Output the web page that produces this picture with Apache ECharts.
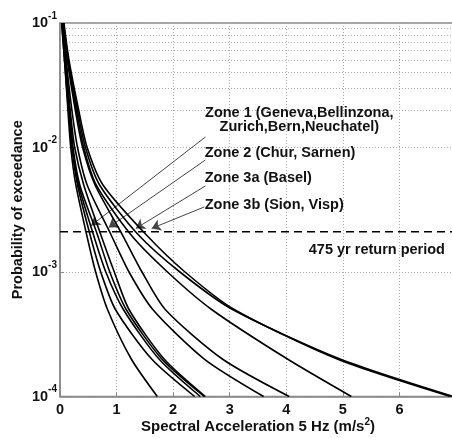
<!DOCTYPE html>
<html><head><meta charset="utf-8">
<script src="https://cdn.jsdelivr.net/npm/echarts@6/dist/echarts.min.js"></script>
<style>html,body{margin:0;padding:0;background:#fff}#c{width:452px;height:438px}
.fl{font-family:'Liberation Sans';font-weight:bold;position:absolute;left:-999px;top:-999px}</style>
</head><body><div class="fl">Zone 10</div><div id="c"></div>
<script>
// Probability levels at which each curve's acceleration (m/s^2) was read
const probLevels = [0.1, 0.05, 0.02, 0.01, 0.005, 0.002, 0.001, 0.0005, 0.0002, 0.0001];
// Zone 1 curves
const curveA = [0.03, 0.08, 0.14, 0.19, 0.28, 0.47, 0.63, 0.84, 1.26, 1.72];
const curveB = [0.03, 0.08, 0.15, 0.21, 0.31, 0.53, 0.72, 0.98, 1.62, 2.38];
const curveC = [0.04, 0.09, 0.16, 0.22, 0.33, 0.59, 0.81, 1.12, 1.75, 2.48];
const curveD1 = [0.04, 0.09, 0.17, 0.23, 0.35, 0.66, 0.88, 1.17, 1.80, 2.55];
const curveD2 = [0.04, 0.10, 0.18, 0.26, 0.42, 0.72, 0.96, 1.22, 1.84, 2.57];
// Zone 2 curves
const curveE = [0.05, 0.11, 0.21, 0.31, 0.48, 0.90, 1.22, 1.64, 2.55, 3.60];
const curveF = [0.05, 0.13, 0.27, 0.40, 0.62, 1.10, 1.45, 1.86, 2.87, 4.05];
// Zone 3a curve
const curveG = [0.06, 0.14, 0.29, 0.42, 0.64, 1.25, 1.90, 2.68, 4.02, 5.15];
// Zone 3b curves
const curveH = [0.06, 0.15, 0.31, 0.45, 0.70, 1.38, 2.12, 3.05, 4.95, 6.95];
const curveI = [0.07, 0.16, 0.33, 0.48, 0.76, 1.52, 2.21, 3.08, 4.90, 6.90];
const curves = [curveA, curveB, curveC, curveD1, curveD2, curveE, curveF, curveG, curveH, curveI];

const xTickLabels = ['0', '1', '2', '3', '4', '5', '6', ''];
const yTickValues = [0.0001, 0.001, 0.01, 0.1];
const yTickExps = ['-4', '-3', '-2', '-1'];
const minorGridValues = [
  0.0002, 0.0003, 0.0004, 0.0005, 0.0006, 0.0007, 0.0008, 0.0009,
  0.002, 0.003, 0.004, 0.005, 0.006, 0.007, 0.008, 0.009,
  0.02, 0.03, 0.04, 0.05, 0.06, 0.07, 0.08, 0.09
];
const returnPeriodYears = 475;
const returnPeriodP = 1 / returnPeriodYears;
const returnPeriodText = '475 yr return period';

// annotation texts and anchors (x in m/s^2, y probability)
const zoneTexts = [
  'Zone 1 (Geneva,Bellinzona,\nZurich,Bern,Neuchatel)',
  'Zone 2 (Chur, Sarnen)',
  'Zone 3a (Basel)',
  'Zone 3b (Sion, Visp)'
];
const zoneTextAnchors = [[4.23, 0.01663], [2.549, 0.00904], [2.549, 0.00569], [2.549, 0.00345]];
const arrowStarts = [[2.57, 0.01214], [2.57, 0.00794], [2.57, 0.00491], [2.55, 0.00333]];
const arrowEnds = [[0.55, 0.00236], [0.86, 0.00228], [1.34, 0.00224], [1.62, 0.00224]];
const returnTextAnchor = [4.389, 0.00150];

const FONT = '"Liberation Sans", Arial, Helvetica, sans-serif';
const chart = echarts.init(document.getElementById('c'), null, {renderer: 'canvas'});

const curveSeries = curves.map((c, k) => ({
  type: 'line',
  name: 'curve' + k,
  data: probLevels.map((p, i) => [c[i], p]),
  smooth: 0.25,
  showSymbol: false,
  symbol: 'none',
  silent: true,
  z: 5,
  lineStyle: {color: '#000', width: 1.6}
}));

const labelBase = {color: '#111', fontWeight: 'bold', fontSize: 14.5, fontFamily: FONT};

const option = {
  animation: false,
  backgroundColor: '#fff',
  textStyle: {fontFamily: FONT, fontWeight: 'bold'},
  grid: {left: 60, right: -4, top: 23, bottom: 41.5, containLabel: false, outerBoundsMode: 'none',
         show: true, borderColor: '#888', borderWidth: 1.5, backgroundColor: 'transparent'},
  xAxis: {
    type: 'value', min: 0, max: 7, interval: 1,
    name: 'Spectral Acceleration 5 Hz (m/s{sup|2})',
    nameLocation: 'middle', nameGap: 21, nameMoveOverlap: false,
    nameTextStyle: {color: '#111', fontWeight: 'bold', fontSize: 15, fontFamily: FONT, lineHeight: 18,
      rich: {sup: {fontSize: 10, fontWeight: 'bold', fontFamily: FONT, color: '#111', verticalAlign: 'top', lineHeight: 10}}},
    axisLine: {show: true, lineStyle: {color: '#888', width: 1.5}},
    axisTick: {show: true, inside: true, length: 4, lineStyle: {color: '#888'}},
    axisLabel: {margin: 6, color: '#111', fontWeight: 'bold', fontSize: 14.5, fontFamily: FONT,
      formatter: (v) => xTickLabels[Math.round(v)] ?? ''},
    splitLine: {show: true, lineStyle: {color: '#aaa', width: 1, type: [1, 2]}}
  },
  yAxis: {
    type: 'log', logBase: 10, min: 0.0001, max: 0.1, splitNumber: 3,
    name: 'Probability of exceedance',
    nameLocation: 'middle', nameGap: 35, nameMoveOverlap: false,
    nameTextStyle: {color: '#111', fontWeight: 'bold', fontSize: 14.5, fontFamily: FONT},
    axisLine: {show: true, lineStyle: {color: '#888', width: 1.5}},
    axisTick: {show: true, inside: true, length: 4, lineStyle: {color: '#888'}},
    axisLabel: {margin: 3, color: '#111', fontFamily: FONT, fontWeight: 'bold',
      formatter: (v) => {
        const idx = yTickValues.findIndex(t => Math.abs(Math.log10(t) - Math.log10(v)) < 1e-6);
        return idx >= 0 ? '{b|10}{s|' + yTickExps[idx] + '}' : '';
      },
      rich: {
        b: {fontSize: 14.5, fontWeight: 'bold', fontFamily: FONT, color: '#111', lineHeight: 24, verticalAlign: 'middle'},
        s: {fontSize: 10, fontWeight: 'bold', fontFamily: FONT, color: '#111', lineHeight: 10, verticalAlign: 'top'}
      }
    },
    splitLine: {show: true, lineStyle: {color: '#aaa', width: 1, type: [1, 2]}}
  },
  series: [
    {
      type: 'line', name: 'minorGrid', data: [], silent: true, z: 1,
      markLine: {
        silent: true, symbol: ['none', 'none'], animation: false,
        label: {show: false},
        lineStyle: {color: '#aaa', width: 1, type: [1, 2]},
        data: minorGridValues.map(v => ({yAxis: v}))
      }
    },
    ...curveSeries,
    {
      type: 'line', name: 'returnPeriod', silent: true, z: 6,
      data: [[0, returnPeriodP], [7, returnPeriodP]],
      showSymbol: false, symbol: 'none',
      lineStyle: {color: '#000', width: 1.6, type: [8, 5]},
      markLine: {
        silent: true, animation: false, symbol: ['none', 'arrow'], symbolSize: 9,
        label: {show: false},
        lineStyle: {color: '#444', width: 1, type: 'solid'},
        data: arrowStarts.map((s, i) => [{coord: s}, {coord: arrowEnds[i]}])
      },
      markPoint: {
        silent: true, animation: false, symbol: 'circle', symbolSize: 1,
        itemStyle: {color: 'rgba(0,0,0,0)'},
        data: [
          {coord: zoneTextAnchors[0], label: Object.assign({show: true, position: 'inside', align: 'center', lineHeight: 14, formatter: zoneTexts[0]}, labelBase)},
          ...[1, 2, 3].map(i => ({coord: zoneTextAnchors[i], label: Object.assign({show: true, position: 'right', distance: 0, formatter: zoneTexts[i]}, labelBase)})),
          {coord: returnTextAnchor, label: Object.assign({show: true, position: 'right', distance: 0, formatter: returnPeriodText}, labelBase)}
        ]
      }
    }
  ]
};
chart.setOption(option);
if (document.fonts && document.fonts.load) {
  Promise.all([
    document.fonts.load('bold 14.5px "Liberation Sans"'),
    document.fonts.load('bold 10px "Liberation Sans"')
  ]).then(() => { chart.clear(); chart.setOption(option); }).catch(() => {});
}
</script>
</body></html>
